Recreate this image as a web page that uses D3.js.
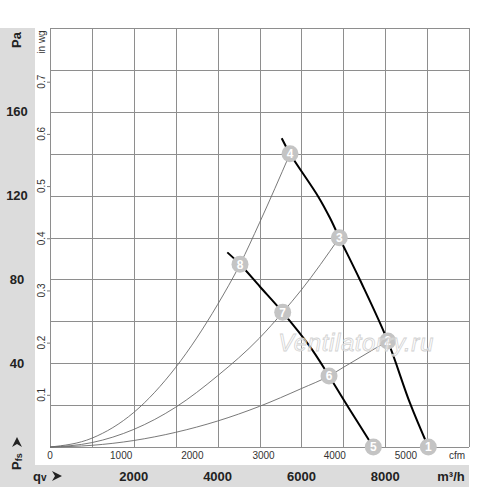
<!DOCTYPE html>
<html>
<head>
<meta charset="utf-8">
<script src="https://cdn.jsdelivr.net/npm/d3@7"></script>
<style>
  body { margin: 0; background: #fff; }
  text { font-family: "Liberation Sans", Arial, sans-serif; }
</style>
</head>
<body>
<div id="chart"></div>
<script>
// tick labels
var flowTicks = [2000, 4000, 6000, 8000];        // m3/h, bottom band
var cfmTicks = [0, 1000, 2000, 3000, 4000, 5000]; // cfm, under the plot
var paTicks = [40, 80, 120, 160];                 // Pa, left band
var inwgTicks = [0.1, 0.2, 0.3, 0.4, 0.5, 0.6, 0.7];

// fan curves [m3/h, Pa]
var fanHigh = [[5530, 147.4], [5728, 140], [6403, 119.5], [6683, 109.3], [6905, 99.9],
               [7399, 79.7], [8060, 50.6], [8592, 20.9], [9029, 0]];
var fanLow = [[4232, 92.9], [4535, 87.2], [5012, 76.5], [5554, 64.3], [6205, 47.9],
              [6659, 33.9], [7160, 17.7], [7716, 0]];

// system curves [m3/h, Pa]
var sysSteep = [[0, 0], [1000, 4.2], [2000, 16.5], [3000, 38], [4000, 68], [4535, 87.2],
                [5000, 107], [5728, 140]];
var sysMid = [[0, 0], [1000, 2.1], [2000, 8.4], [3000, 19], [4000, 34], [5000, 52],
              [5554, 64.3], [6000, 75], [6905, 99.9]];
var sysFlat = [[0, 0], [1000, 0.8], [2000, 3.1], [3000, 7], [4000, 12.4], [5000, 19.4],
               [6000, 27.9], [6659, 33.9], [7000, 38], [8060, 50.6]];

// numbered operating points
var pointNo = [1, 2, 3, 4, 5, 6, 7, 8];
var pointQ = [9029, 8060, 6905, 5728, 7716, 6659, 5554, 4535];
var pointP = [0, 50.6, 99.9, 140, 0, 33.9, 64.3, 87.2];

var W = 500, H = 487;
var m = {left: 50, right: 469, top: 28, bottom: 447};

var svg = d3.select("#chart").append("svg")
    .attr("width", W)
    .attr("height", H);

var x = d3.scaleLinear().domain([0, 10000]).range([m.left, m.right]);
var y = d3.scaleLinear().domain([0, 200]).range([m.bottom, m.top]);

// gray bands
svg.append("rect").attr("x", 0).attr("y", m.top).attr("width", 35).attr("height", H - m.top)
    .attr("fill", "#dcdcdc");
svg.append("rect").attr("x", 0).attr("y", 465).attr("width", m.right).attr("height", H - 465)
    .attr("fill", "#dcdcdc");

// grid
var grid = svg.append("g").attr("stroke", "#8e8e8e").attr("stroke-width", 1);
x.ticks(10).forEach(function(v) {
  grid.append("line").attr("x1", Math.round(x(v)) + 0.5).attr("x2", Math.round(x(v)) + 0.5)
      .attr("y1", m.top).attr("y2", m.bottom);
});
y.ticks(10).forEach(function(v) {
  grid.append("line").attr("y1", Math.round(y(v)) + 0.5).attr("y2", Math.round(y(v)) + 0.5)
      .attr("x1", m.left).attr("x2", m.right);
});

// in wg axis
var inwg = d3.axisLeft(y).tickValues(inwgTicks.map(function(d) { return d * 249.089; }))
    .tickSize(3).tickFormat("");
var gi = svg.append("g").attr("transform", "translate(" + m.left + ",0)").call(inwg);
gi.select(".domain").remove();
gi.selectAll(".tick line").attr("stroke", "#777");
inwgTicks.forEach(function(v) {
  svg.append("text")
      .attr("transform", "translate(45," + y(v * 249.089) + ") rotate(-90)")
      .attr("text-anchor", "middle")
      .attr("font-size", 10).attr("fill", "#333")
      .text(v.toFixed(1));
});
svg.append("text")
    .attr("transform", "translate(45,42) rotate(-90)")
    .attr("text-anchor", "middle")
    .attr("font-size", 10).attr("fill", "#333")
    .text("in wg");

// Pa labels
paTicks.forEach(function(v) {
  svg.append("text")
      .attr("x", 17).attr("y", y(v)).attr("dy", "0.35em")
      .attr("text-anchor", "middle")
      .attr("font-size", 13).attr("font-weight", "bold").attr("fill", "#222")
      .text(v);
});
svg.append("text")
    .attr("transform", "translate(21,40) rotate(-90)")
    .attr("text-anchor", "middle")
    .attr("font-size", 13).attr("font-weight", "bold").attr("fill", "#222")
    .text("Pa");

// cfm labels
cfmTicks.forEach(function(v) {
  svg.append("text")
      .attr("x", x(v * 1.699)).attr("y", 459)
      .attr("text-anchor", "middle")
      .attr("font-size", 10).attr("fill", "#333")
      .text(v);
});
svg.append("text").attr("x", 457).attr("y", 459).attr("text-anchor", "middle")
    .attr("font-size", 10).attr("fill", "#333").text("cfm");

// m3/h labels
flowTicks.forEach(function(v) {
  svg.append("text")
      .attr("x", x(v)).attr("y", 481)
      .attr("text-anchor", "middle")
      .attr("font-size", 13).attr("font-weight", "bold").attr("fill", "#222")
      .text(v);
});
svg.append("text").attr("x", 451).attr("y", 481).attr("text-anchor", "middle")
    .attr("font-size", 13).attr("font-weight", "bold").attr("fill", "#222").text("m³/h");

// qv and Pfs symbols
var qv = svg.append("text").attr("x", 33).attr("y", 481)
    .attr("font-size", 13).attr("font-weight", "bold").attr("fill", "#222");
qv.append("tspan").text("q");
qv.append("tspan").attr("font-size", 10).text("v");
var pf = svg.append("text").attr("transform", "translate(21,470) rotate(-90)")
    .attr("font-size", 13).attr("font-weight", "bold").attr("fill", "#222");
pf.append("tspan").text("P");
pf.append("tspan").attr("font-size", 9).attr("dy", 1).text("fs");

var arrow = "M0,-5 L10,0 L0,5 L3,0 Z";
svg.append("path").attr("d", arrow).attr("fill", "#222")
    .attr("transform", "translate(52,476)");
svg.append("path").attr("d", arrow).attr("fill", "#222")
    .attr("transform", "translate(17,447) rotate(-90)");

// curves
var line = d3.line()
    .x(function(d) { return x(d[0]); })
    .y(function(d) { return y(d[1]); });

[sysSteep, sysMid, sysFlat].forEach(function(s) {
  svg.append("path")
      .attr("d", line.curve(d3.curveMonotoneX)(s))
      .attr("fill", "none").attr("stroke", "#6a6a6a").attr("stroke-width", 0.9);
});
[fanHigh, fanLow].forEach(function(s) {
  svg.append("path")
      .attr("d", line.curve(d3.curveCatmullRom)(s))
      .attr("fill", "none").attr("stroke", "#000").attr("stroke-width", 2);
});

// numbered points
var pts = svg.selectAll(".pt").data(pointNo).enter().append("g")
    .attr("transform", function(d, i) {
      return "translate(" + x(pointQ[i]) + "," + y(pointP[i]) + ")";
    });
pts.append("circle").attr("r", 8.5).attr("fill", "#c4c4c4");
pts.append("text")
    .attr("text-anchor", "middle").attr("dy", "0.36em")
    .attr("font-size", 12).attr("font-weight", "bold").attr("fill", "#fff")
    .text(function(d) { return d; });

// watermark on top
svg.append("text")
    .attr("x", 356).attr("y", 351)
    .attr("text-anchor", "middle")
    .attr("font-size", 24).attr("font-style", "italic").attr("letter-spacing", 0.6)
    .attr("fill", "#fff").attr("fill-opacity", 0.55)
    .attr("stroke", "#d2d2d2").attr("stroke-width", 0.8)
    .text("Ventilatorry.ru");
</script>
</body>
</html>
